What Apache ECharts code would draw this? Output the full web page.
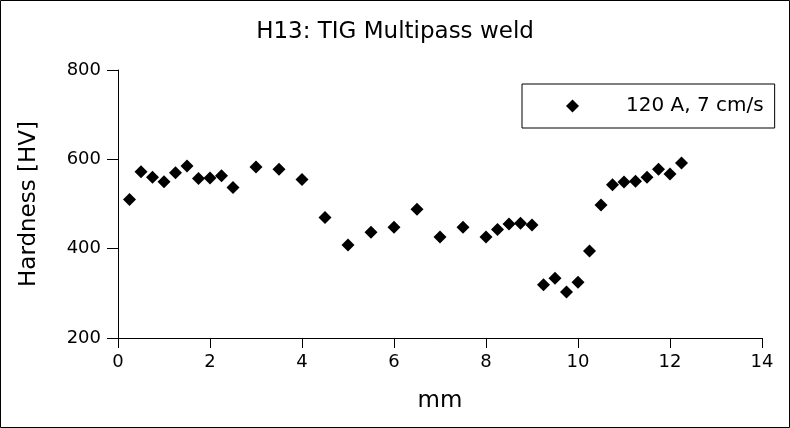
<!DOCTYPE html>
<html>
<head>
<meta charset="utf-8">
<script src="https://cdn.jsdelivr.net/npm/echarts@6/dist/echarts.min.js"></script>
<style>
html,body{margin:0;padding:0;background:#fff;}
#c{width:790px;height:428px;}
</style>
</head>
<body>
<div id="c"></div>
<script>
const titleText = "H13: TIG Multipass weld";
const seriesName = "120 A, 7 cm/s";
const xName = "mm";
const yName = "Hardness [HV]";
const positions = [0.25,0.5,0.75,1.0,1.25,1.5,1.75,2.0,2.25,2.5,3.0,3.5,4.0,4.5,5.0,5.5,6.0,6.5,7.0,7.5,8.0,8.25,8.5,8.75,9.0,9.25,9.5,9.75,10.0,10.25,10.5,10.75,11.0,11.25,11.5,11.75,12.0,12.25];
const hardness = [510,572,560,550,570,585,557,558,563,537,583,578,555,470,408,437,448,488,426,448,426,443,455,457,453,319,334,303,325,395,498,543,549,551,560,578,567,592];

const data = positions.map((x,i)=>[x,hardness[i]]);
const font = "DejaVu Sans";
const chart = echarts.init(document.getElementById('c'));
chart.setOption({
  animation:false,
  backgroundColor:'#fff',
  title:{text:titleText,left:'center',top:16,textStyle:{fontFamily:font,fontSize:23,fontWeight:'normal',color:'#000'}},
  grid:{left:118,right:28,top:70,bottom:90},
  legend:{
    left:522,top:84,orient:'horizontal',
    borderColor:'#000',borderWidth:1,
    padding:[12,11,12,44],
    itemWidth:13,itemHeight:13,
    icon:'diamond',
    itemStyle:{opacity:1,color:'#000'},
    textStyle:{fontFamily:font,fontSize:20,color:'#000',padding:[0,0,0,42]},
    data:[seriesName]
  },
  xAxis:{
    type:'value',min:0,max:14,interval:2,
    name:xName,nameLocation:'middle',nameGap:52,
    nameTextStyle:{fontFamily:font,fontSize:23,color:'#000'},
    axisLine:{show:true,onZero:false,lineStyle:{color:'#000',width:1}},
    axisTick:{show:true,length:10,lineStyle:{color:'#000'}},
    axisLabel:{fontFamily:font,fontSize:18,color:'#000',margin:15},
    splitLine:{show:false}
  },
  yAxis:{
    type:'value',min:200,max:800,interval:200,
    name:yName,nameLocation:'middle',nameGap:77,
    nameTextStyle:{fontFamily:font,fontSize:23,color:'#000'},
    axisLine:{show:true,lineStyle:{color:'#000',width:1}},
    axisTick:{show:true,length:11,lineStyle:{color:'#000'}},
    axisLabel:{fontFamily:font,fontSize:18,color:'#000',margin:17},
    splitLine:{show:false}
  },
  graphic:[{type:'rect',shape:{x:0.5,y:0.5,width:789,height:427},style:{fill:null,stroke:'#000',lineWidth:1},silent:true}],
  series:[{
    name:seriesName,type:'scatter',symbol:'diamond',symbolSize:13,
    itemStyle:{color:'#000',opacity:1},
    data:data
  }]
});
</script>
</body>
</html>
